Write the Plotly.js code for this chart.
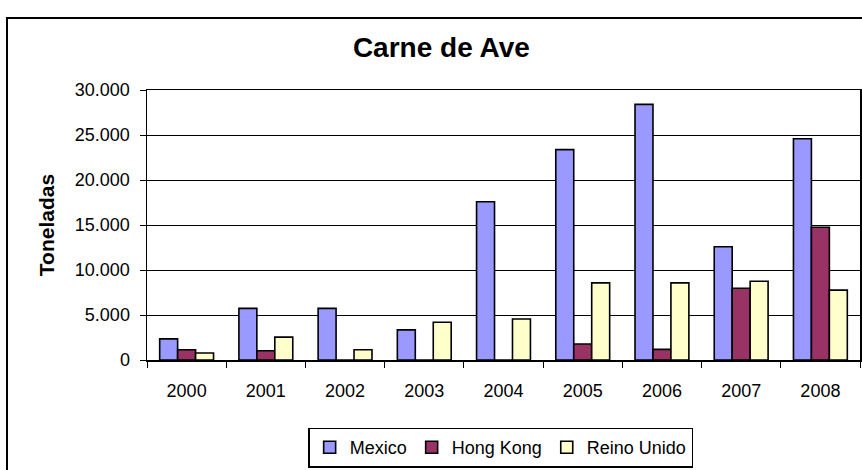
<!DOCTYPE html>
<html>
<head>
<meta charset="utf-8">
<script src="https://cdn.plot.ly/plotly-3.0.1.min.js"></script>
<style>
  html, body { margin: 0; padding: 0; background: #fff; }
  #wrap { position: relative; width: 862px; height: 470px; overflow: hidden; }
  #chart { position: absolute; left: 0; top: 0; width: 862px; height: 470px; }
  #frame { position: absolute; left: 6px; top: 17px; width: 900px; height: 500px;
           border-left: 2px solid #000; border-top: 2px solid #000; pointer-events: none; }
</style>
</head>
<body>
<div id="wrap">
  <div id="chart"></div>
  <div id="frame"></div>
</div>
<script>
const years = ['2000','2001','2002','2003','2004','2005','2006','2007','2008'];
const mexico    = [2350, 5740, 5740, 3350, 17580, 23370, 28400, 12580, 24580];
const hongKong  = [1140, 1030, 0, 0, 0, 1770, 1180, 7980, 14750];
const reinoUnido = [770, 2540, 1140, 4190, 4560, 8570, 8570, 8750, 7760];
const seriesNames = ['Mexico', 'Hong Kong', 'Reino Unido'];
const seriesColors = ['#9999FF', '#993366', '#FFFFCC'];
const seriesValues = [mexico, hongKong, reinoUnido];
const yTicks = [0, 5000, 10000, 15000, 20000, 25000, 30000];

const data = seriesValues.map((vals, i) => ({
  type: 'bar',
  name: seriesNames[i],
  x: years,
  y: vals,
  marker: { color: seriesColors[i], line: { color: '#000', width: 1.6 } },
  hoverinfo: 'skip'
}));

const FONT = 'Liberation Sans, Arial, sans-serif';
const layout = {
  width: 862, height: 470,
  margin: { l: 147, r: 2, t: 90, b: 108 },
  paper_bgcolor: '#fff', plot_bgcolor: '#fff',
  separators: ',.',
  font: { family: FONT, size: 18, color: '#000' },
  title: { text: '<b>Carne de Ave</b>', x: 0.512, xanchor: 'center', y: 0.9, yanchor: 'middle',
           font: { size: 28, color: '#000', family: FONT } },
  barmode: 'group',
  bargap: 0.32,
  bargroupgap: 0,
  showlegend: true,
  legend: { orientation: 'h', x: 0.496, xanchor: 'center', y: -0.25, yanchor: 'top',
            bordercolor: '#000', borderwidth: 1.5, font: { size: 18 },
            itemwidth: 30, tracegroupgap: 0 },
  xaxis: {
    type: 'category', tickson: 'boundaries', ticks: 'outside', ticklen: 6, tickcolor: '#000',
    showline: true, linecolor: '#000', linewidth: 1.5, mirror: true,
    showgrid: false, ticklabelstandoff: 14, fixedrange: true
  },
  yaxis: {
    range: [0, 30000], tickvals: yTicks, tickformat: ',d',
    ticks: 'outside', ticklen: 6, tickcolor: '#000',
    showline: true, linecolor: '#000', linewidth: 1.5, mirror: true,
    showgrid: true, gridcolor: '#000', gridwidth: 1, zeroline: false,
    ticklabelstandoff: 6,
    title: { text: '<b>Toneladas</b>', font: { size: 21 }, standoff: 14 },
    automargin: false, fixedrange: true
  }
};

Plotly.newPlot('chart', data, layout, { displayModeBar: false, staticPlot: true });
</script>
</body>
</html>
